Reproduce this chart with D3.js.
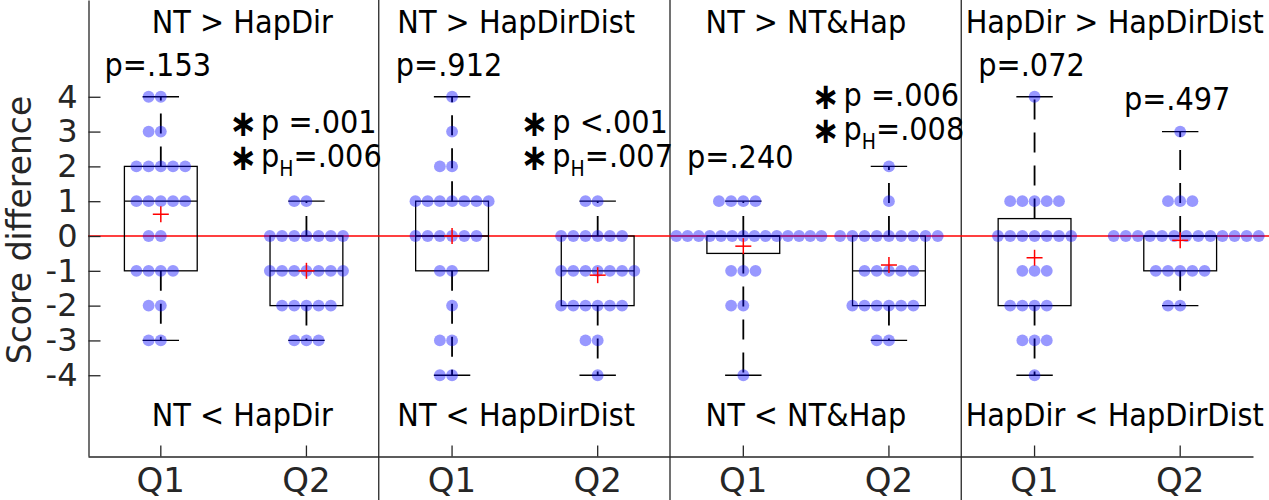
<!DOCTYPE html>
<html>
<head>
<meta charset="utf-8">
<script src="https://cdn.jsdelivr.net/npm/d3@7"></script>
<style>
	body { margin: 0; background: #fff; }
	svg { display: block; }
	text { font-family: "DejaVu Sans", sans-serif; }
	.note { font-family: "DejaVu Sans Condensed", "DejaVu Sans", sans-serif; font-stretch: condensed; font-size: 32px; fill: #000; white-space: pre; }
</style>
</head>
<body>
<script>
const categories = ["Q1", "Q2", "Q1", "Q2", "Q1", "Q2", "Q1", "Q2"];
const scoreLevels = [4, 3, 2, 1, 0, -1, -2, -3, -4];

//number of participants at each score level (same order as scoreLevels)
const p1q1Counts = [2, 2, 5, 5, 2, 4, 2, 2, 0];
const p1q2Counts = [0, 0, 0, 2, 7, 7, 5, 3, 0];
const p2q1Counts = [1, 1, 2, 7, 6, 2, 1, 2, 2];
const p2q2Counts = [0, 0, 0, 2, 6, 7, 6, 2, 1];
const p3q1Counts = [0, 0, 0, 4, 14, 3, 2, 0, 1];
const p3q2Counts = [0, 0, 1, 1, 9, 5, 6, 2, 0];
const p4q1Counts = [1, 0, 0, 5, 7, 3, 4, 3, 1];
const p4q2Counts = [0, 1, 0, 3, 13, 5, 2, 0, 0];
const groupCounts = [p1q1Counts, p1q2Counts, p2q1Counts, p2q2Counts, p3q1Counts, p3q2Counts, p4q1Counts, p4q2Counts];

const panelTop = ["NT > HapDir", "NT > HapDirDist", "NT > NT&Hap", "HapDir > HapDirDist"];
const panelBottom = ["NT < HapDir", "NT < HapDirDist", "NT < NT&Hap", "HapDir < HapDirDist"];
const panelTextX = [0.56, 2.44, 4.43, 6.55];   // in category units
const topTextY = 5.83;
const bottomTextY = -5.46;

const pLines = [
	["p=.153"], ["∗p =.001", "∗p_H=.006"],
	["p=.912"], ["∗p <.001", "∗p_H=.007"],
	["p=.240"], ["∗p =.006", "∗p_H=.008"],
	["p=.072"], ["p=.497"]
];
const pY = [4.6, 2.96, 4.6, 2.96, 1.95, 3.74, 4.6, 3.62];   // baseline of first line, score units

const yTicks = [-4, -3, -2, -1, 0, 1, 2, 3, 4];


document.addEventListener("DOMContentLoaded", function(event) {
	createChart(500, 1269);
});


//MATLAB style percentile (n*p+0.5 position)
function prctile(sorted, p) {
	const n = sorted.length;
	const pos = n * p + 0.5;
	if (pos <= 1) return sorted[0];
	if (pos >= n) return sorted[n - 1];
	const i = Math.floor(pos);
	return sorted[i - 1] + (pos - i) * (sorted[i] - sorted[i - 1]);
}

function createChart(h, w) {
	const svg = d3.select("body").append("svg")
		.attr("width", w)
		.attr("height", h);

	const axisColor = "#262626";
	const x = d3.scaleBand().domain(d3.range(categories.length)).range([88, 1253]);
	const y = d3.scaleLinear().domain([-6.32, 6.78]).range([456, 0]);
	const step = x.bandwidth();
	const cx = function(i) { return x(i) + step / 2; };

	//expand counts into raw score lists
	const groups = groupCounts.map(function(c) {
		let values = [];
		c.forEach(function(n, k) {
			for (let j = 0; j < n; j++) values.push(scoreLevels[k]);
		});
		return values.sort(d3.ascending);
	});

	//panel dividers
	svg.selectAll("line.divider")
	   .data([2, 4, 6])
	   .enter()
	   .append("line")
	   .attr("x1", function(d) { return x(d) - 0.5; })
	   .attr("x2", function(d) { return x(d) - 0.5; })
	   .attr("y1", 0)
	   .attr("y2", h)
	   .attr("stroke", axisColor)
	   .attr("stroke-width", 1.3);

	//zero line
	svg.append("line")
	   .attr("x1", 88).attr("x2", w)
	   .attr("y1", y(0)).attr("y2", y(0))
	   .attr("stroke", "#ff0000")
	   .attr("stroke-width", 1.5);

	//boxes
	const stats = groups.map(function(v) {
		return {
			q1: prctile(v, 0.25),
			med: prctile(v, 0.5),
			q3: prctile(v, 0.75),
			min: v[0],
			max: v[v.length - 1],
			mean: d3.mean(v)
		};
	});

	const box = svg.append("g").attr("stroke", "#000").attr("stroke-width", 1.3).attr("fill", "none");
	stats.forEach(function(s, i) {
		const c = cx(i);
		const bw = step * 0.25;
		const cw = step * 0.125;
		box.append("rect")
		   .attr("x", c - bw).attr("width", bw * 2)
		   .attr("y", y(s.q3)).attr("height", Math.max(0, y(s.q1) - y(s.q3)));
		box.append("line")
		   .attr("x1", c - bw).attr("x2", c + bw)
		   .attr("y1", y(s.med)).attr("y2", y(s.med));
		//dashed whiskers, from box edge outward
		[[s.q3, s.max], [s.q1, s.min]].forEach(function(p) {
			if (p[0] === p[1]) return;
			box.append("line")
			   .attr("x1", c).attr("x2", c)
			   .attr("y1", y(p[0])).attr("y2", y(p[1]))
			   .attr("stroke-width", 1.8)
			   .attr("stroke-dasharray", "20,13");
		});
		[s.max, s.min].forEach(function(v) {
			box.append("line")
			   .attr("x1", c - cw).attr("x2", c + cw)
			   .attr("y1", y(v)).attr("y2", y(v));
		});
	});

	//dots, arranged side by side per score level
	const dots = [];
	groupCounts.forEach(function(c, i) {
		c.forEach(function(n, k) {
			const spacing = Math.min(12.2, 145 / Math.max(1, n - 1));
			//wide rows lean right, short even rows lean left
			const start = n > 10 ? -(n / 2 - 1) : -Math.floor(n / 2);
			for (let j = 0; j < n; j++) {
				dots.push({ x: cx(i) + (start + j) * spacing, v: scoreLevels[k] });
			}
		});
	});

	svg.append("g")
	   .attr("opacity", 0.4)
	   .selectAll("circle")
	   .data(dots)
	   .enter()
	   .append("circle")
	   .attr("cx", function(d) { return d.x; })
	   .attr("cy", function(d) { return y(d.v); })
	   .attr("r", 5.9)
	   .attr("fill", "#0000ff");

	//means
	const plus = svg.append("g").attr("stroke", "#ff0000").attr("stroke-width", 1.5);
	stats.forEach(function(s, i) {
		const c = cx(i), m = y(s.mean);
		plus.append("line").attr("x1", c - 8).attr("x2", c + 8).attr("y1", m).attr("y2", m);
		plus.append("line").attr("x1", c).attr("x2", c).attr("y1", m - 8).attr("y2", m + 8);
	});

	//axes
	const yAxis = d3.axisLeft(y)
		.tickValues(yTicks)
		.tickFormat(function(d) { return String(d); })
		.tickSizeInner(-12)
		.tickSizeOuter(0)
		.tickPadding(11);
	const gy = svg.append("g").attr("transform", "translate(88.5,0)").call(yAxis);

	const xAxis = d3.axisBottom(x)
		.tickFormat(function(d) { return categories[d]; })
		.tickSizeInner(-11)
		.tickSizeOuter(0)
		.tickPadding(11);
	const gx = svg.append("g").attr("transform", "translate(0,456.5)").call(xAxis);

	[gx, gy].forEach(function(g) {
		g.select(".domain").attr("stroke", axisColor).attr("stroke-width", 1.3);
		g.selectAll(".tick line").attr("stroke", axisColor).attr("stroke-width", 1.3);
		g.selectAll(".tick text")
		 .attr("fill", axisColor)
		 .style("font-family", '"DejaVu Sans", sans-serif');
	});
	gy.selectAll(".tick text").style("font-size", "32px");
	gx.selectAll(".tick text").style("font-size", "34px");

	svg.append("text")
	   .attr("transform", "translate(31," + 230 + ") rotate(-90)")
	   .attr("text-anchor", "middle")
	   .attr("fill", axisColor)
	   .style("font-size", "33px")
	   .text("Score difference");

	//panel direction labels
	const catX = function(u) { return x(0) + step / 2 + u * step; };
	panelTop.forEach(function(t, i) {
		svg.append("text").attr("class", "note")
		   .attr("x", catX(panelTextX[i])).attr("y", y(topTextY))
		   .attr("text-anchor", "middle").text(t);
		svg.append("text").attr("class", "note")
		   .attr("x", catX(panelTextX[i])).attr("y", y(bottomTextY))
		   .attr("text-anchor", "middle").text(panelBottom[i]);
	});

	//p-values
	pLines.forEach(function(lines, i) {
		const g = svg.append("g");
		lines.forEach(function(line, j) {
			const t = g.append("text").attr("class", "note")
			   .attr("y", y(pY[i]) + j * 34);
			let body = line;
			if (body.charAt(0) === "∗") {
				t.append("tspan").style("font-weight", "bold").style("font-size", "37px").attr("dy", 3).text("∗");
				body = body.slice(1);
				t.append("tspan").attr("dx", 4).attr("dy", -3).text(body.split("_H")[0]);
			} else {
				t.append("tspan").text(body.split("_H")[0]);
			}
			const parts = body.split("_H");
			if (parts.length > 1) {
				t.append("tspan").style("font-size", "21px").attr("dy", 9).text("H");
				t.append("tspan").attr("dy", -9).text(parts[1]);
			}
		});
		const texts = g.selectAll("text");
		const widest = d3.max(texts.nodes(), function(n) { return n.getComputedTextLength(); });
		texts.attr("x", cx(i) - widest / 2 - 3);
	});
}
</script>
</body>
</html>
